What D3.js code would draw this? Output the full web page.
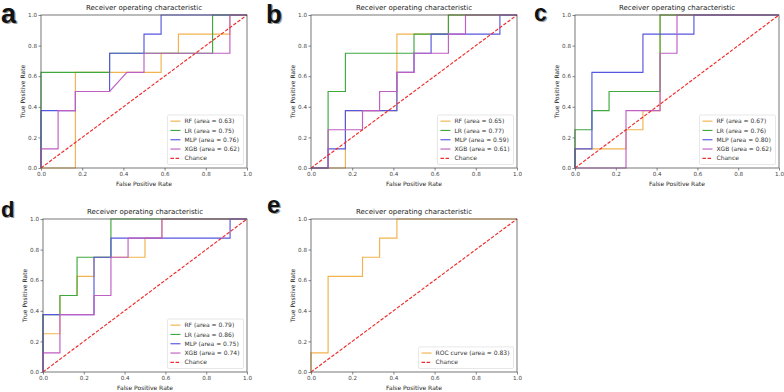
<!DOCTYPE html>
<html>
<head>
<meta charset="UTF-8">
<title>ROC</title>
<script src="https://cdn.jsdelivr.net/npm/d3@7/dist/d3.min.js"></script>
<style>
  * { margin: 0; padding: 0; }
  body { background: #fff; }
  #chart { width: 784px; height: 392px; }
  text { font-family: "DejaVu Sans", sans-serif; }
</style>
</head>
<body>
<div id="chart"></div>
<script>
// ROC points [fpr, tpr]
var a_RF  = [[0,0],[0.167,0],[0.167,0.625],[0.583,0.625],[0.583,0.75],[0.667,0.75],[0.667,0.875],[0.917,0.875],[0.917,1],[1,1]];
var a_LR  = [[0,0],[0,0.625],[0.333,0.625],[0.333,0.75],[0.833,0.75],[0.833,1],[1,1]];
var a_MLP = [[0,0],[0,0.375],[0.167,0.375],[0.167,0.5],[0.333,0.5],[0.333,0.75],[0.5,0.75],[0.5,0.875],[0.583,0.875],[0.583,1],[1,1]];
var a_XGB = [[0,0],[0,0.125],[0.083,0.125],[0.083,0.375],[0.167,0.375],[0.167,0.5],[0.333,0.5],[0.417,0.625],[0.5,0.625],[0.5,0.75],[0.917,0.75],[0.917,1],[1,1]];

var b_RF  = [[0,0],[0.167,0],[0.167,0.375],[0.417,0.375],[0.417,0.875],[0.667,0.875],[0.667,1],[1,1]];
var b_LR  = [[0,0],[0.083,0],[0.083,0.5],[0.167,0.5],[0.167,0.75],[0.5,0.75],[0.5,0.875],[0.667,0.875],[0.667,1],[1,1]];
var b_MLP = [[0,0],[0.083,0],[0.083,0.125],[0.167,0.125],[0.167,0.375],[0.417,0.375],[0.417,0.625],[0.5,0.625],[0.5,0.75],[0.583,0.75],[0.583,0.875],[0.917,0.875],[0.917,1],[1,1]];
var b_XGB = [[0,0],[0.083,0],[0.083,0.25],[0.25,0.25],[0.25,0.375],[0.333,0.375],[0.333,0.5],[0.417,0.5],[0.417,0.625],[0.5,0.625],[0.5,0.75],[0.667,0.75],[0.667,0.875],[0.75,0.875],[0.75,1],[1,1]];

var c_RF  = [[0,0],[0,0.125],[0.25,0.125],[0.25,0.25],[0.333,0.25],[0.333,0.375],[0.417,0.375],[0.417,1],[1,1]];
var c_LR  = [[0,0],[0,0.25],[0.083,0.25],[0.083,0.375],[0.167,0.375],[0.167,0.5],[0.417,0.5],[0.417,1],[1,1]];
var c_MLP = [[0,0],[0,0.125],[0.083,0.125],[0.083,0.625],[0.333,0.625],[0.333,0.875],[0.583,0.875],[0.583,1],[1,1]];
var c_XGB = [[0,0],[0.25,0],[0.25,0.375],[0.417,0.375],[0.417,0.75],[0.5,0.75],[0.5,1],[1,1]];

var d_RF  = [[0,0],[0,0.25],[0.083,0.25],[0.083,0.5],[0.167,0.5],[0.167,0.625],[0.25,0.625],[0.25,0.75],[0.5,0.75],[0.5,0.875],[0.583,0.875],[0.583,1],[1,1]];
var d_LR  = [[0,0],[0,0.375],[0.083,0.375],[0.083,0.5],[0.167,0.5],[0.167,0.75],[0.333,0.75],[0.333,1],[1,1]];
var d_MLP = [[0,0],[0,0.375],[0.25,0.375],[0.25,0.75],[0.333,0.75],[0.333,0.875],[0.917,0.875],[0.917,1],[1,1]];
var d_XGB = [[0,0],[0,0.125],[0.083,0.125],[0.083,0.375],[0.25,0.375],[0.25,0.5],[0.333,0.5],[0.333,0.75],[0.417,0.75],[0.417,0.875],[0.583,0.875],[0.583,1],[1,1]];

var e_ROC = [[0,0],[0,0.125],[0.083,0.125],[0.083,0.625],[0.25,0.625],[0.25,0.75],[0.333,0.75],[0.333,0.875],[0.417,0.875],[0.417,1],[1,1]];

var models = ["RF", "LR", "MLP", "XGB"];
var auc_a = [0.63, 0.75, 0.76, 0.62];
var auc_b = [0.65, 0.77, 0.59, 0.61];
var auc_c = [0.67, 0.76, 0.80, 0.62];
var auc_d = [0.79, 0.86, 0.75, 0.74];
var auc_e = [0.83];
var chance = [[0,0],[1,1]];
var ticks = [0, 0.2, 0.4, 0.6, 0.8, 1.0];

var colors = ["#f2b24e", "#3fa83f", "#5656e0", "#bf5fc4"];

var svg = d3.select("#chart").append("svg")
  .attr("width", 784).attr("height", 392);

function drawPanel(letter, box, series, labels, lx, ly, fs) {
  var x = d3.scaleLinear().domain([0, 1]).range([box.l, box.r]);
  var y = d3.scaleLinear().domain([0, 1]).range([box.b, box.t]);
  var g = svg.append("g");

  // axes
  var xa = g.append("g").attr("transform", "translate(0," + box.b + ")")
    .call(d3.axisBottom(x).tickValues(ticks).tickFormat(d3.format(".1f")).tickSize(2.5).tickPadding(1.5));
  var ya = g.append("g").attr("transform", "translate(" + box.l + ",0)")
    .call(d3.axisLeft(y).tickValues(ticks).tickFormat(d3.format(".1f")).tickSize(2.5).tickPadding(1.5));
  [xa, ya].forEach(function(a) {
    a.select(".domain").remove();
    a.selectAll("line").attr("stroke", "#555").attr("stroke-width", 0.7);
    a.selectAll("text").attr("fill", "#444").style("font-size", "5.6px").style("font-family", "DejaVu Sans");
  });

  var line = d3.line().x(function(d){ return x(d[0]); }).y(function(d){ return y(d[1]); });

  series.forEach(function(s, i) {
    g.append("path").attr("d", line(s)).attr("fill", "none")
      .attr("stroke", colors[i]).attr("stroke-width", 1.15);
  });
  g.append("path").attr("d", line(chance)).attr("fill", "none")
    .attr("stroke", "#ef2b2b").attr("stroke-width", 1.15).attr("stroke-dasharray", "3.5,1.6");

  // frame
  g.append("rect").attr("x", box.l).attr("y", box.t)
    .attr("width", box.r - box.l).attr("height", box.b - box.t)
    .attr("fill", "none").attr("stroke", "#555").attr("stroke-width", 0.8);

  // titles
  var cx = (box.l + box.r) / 2;
  g.append("text").attr("x", cx).attr("y", box.t - 5).attr("text-anchor", "middle")
    .style("font-size", "7px").attr("fill", "#222").text("Receiver operating characteristic");
  g.append("text").attr("x", cx).attr("y", box.b + 17.5).attr("text-anchor", "middle")
    .style("font-size", "6px").attr("fill", "#222").text("False Positive Rate");
  g.append("text").attr("transform", "translate(" + (box.l - 18.5) + "," + ((box.t + box.b) / 2) + ") rotate(-90)")
    .attr("text-anchor", "middle").attr("dy", "0.35em")
    .style("font-size", "6px").attr("fill", "#222").text("True Positive Rate");

  // legend
  var items = labels.map(function(t, i){ return {t: t, c: colors[i], dash: false}; });
  items.push({t: "Chance", c: "#ef2b2b", dash: true});
  var rowH = 9.3;
  var lg = g.append("g");
  var bg = lg.append("rect");
  var maxW = 0;
  items.forEach(function(it, i) {
    var yy = i * rowH;
    lg.append("line").attr("x1", 3).attr("x2", 13).attr("y1", yy).attr("y2", yy)
      .attr("stroke", it.c).attr("stroke-width", 1.15)
      .attr("stroke-dasharray", it.dash ? "3.5,1.6" : null);
    var t = lg.append("text").attr("x", 17).attr("y", yy).attr("dy", "0.35em")
      .style("font-size", "6px").attr("fill", "#333").text(it.t);
    maxW = Math.max(maxW, t.node().getComputedTextLength());
  });
  var lw = 17 + maxW + 4, lh = items.length * rowH + 3;
  bg.attr("x", 0).attr("y", -rowH / 2 - 1.5).attr("width", lw).attr("height", lh)
    .attr("rx", 1.5).attr("fill", "#fff").attr("fill-opacity", 0.85)
    .attr("stroke", "#d6d6d6").attr("stroke-width", 0.6);
  lg.attr("transform", "translate(" + (box.r - 3.5 - lw) + "," + (box.b - 3.5 - lh + rowH / 2 + 1.5) + ")");

  // panel letter with a grey drop shadow
  [[1.2, "#9a9a9a"], [0, "#111"]].forEach(function(p) {
    svg.append("text").attr("x", lx + p[0]).attr("y", ly + p[0])
      .style("font-family", "Liberation Sans, Arial, sans-serif").style("font-size", fs + "px")
      .style("font-weight", "bold").attr("fill", p[1]).text(letter);
  });
}

function legendText(aucs) {
  return models.map(function(m, i){ return m + " (area = " + aucs[i].toFixed(2) + ")"; });
}

drawPanel("a", {l: 41, r: 247, t: 15, b: 168}, [a_RF, a_LR, a_MLP, a_XGB], legendText(auc_a), 1, 23, 27);
drawPanel("b", {l: 311, r: 517, t: 15, b: 168}, [b_RF, b_LR, b_MLP, b_XGB], legendText(auc_b), 266, 23, 26);
drawPanel("c", {l: 575, r: 779, t: 15, b: 168}, [c_RF, c_LR, c_MLP, c_XGB], legendText(auc_c), 534, 21, 23);
drawPanel("d", {l: 43, r: 247, t: 219, b: 372}, [d_RF, d_LR, d_MLP, d_XGB], legendText(auc_d), 1, 216.5, 22);
drawPanel("e", {l: 311, r: 517, t: 219, b: 372}, [e_ROC], ["ROC curve (area = " + auc_e[0].toFixed(2) + ")"], 267, 213, 24);
</script>
</body>
</html>
